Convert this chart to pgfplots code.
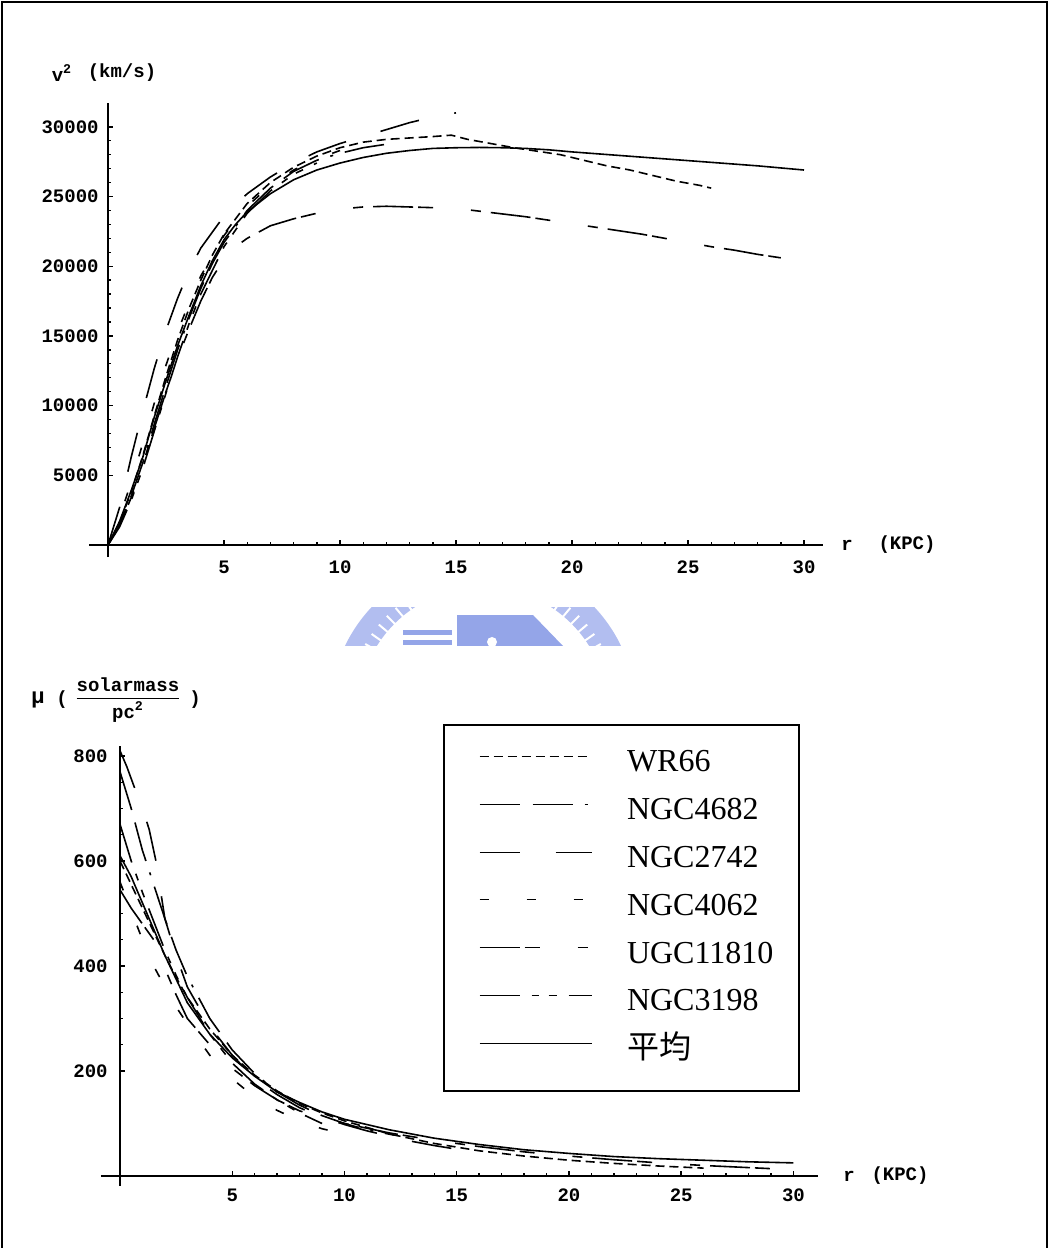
\documentclass[border=0pt]{standalone}
\usepackage{fontspec}
\usepackage{pgfplots}
\pgfplotsset{compat=1.18}
\setmonofont{Liberation Mono}
\newfontfamily\timesfont{Liberation Serif}
\newfontfamily\cjk{Noto Sans CJK TC}
\definecolor{wmblue}{RGB}{148,165,232}
\definecolor{wmring}{RGB}{178,190,240}
\tikzset{
  sWR/.style={dash pattern=on 4.5pt off 2.5pt},
  sN4682/.style={dash pattern=on 20pt off 6.5pt on 20pt off 6pt on 1.5pt off 6pt},
  sN2742/.style={dash pattern=on 20pt off 18pt},
  sN4062/.style={dash pattern=on 4.5pt off 19pt},
  sU/.style={dash pattern=on 20pt off 2.5pt on 7.5pt off 19pt on 5pt off 5pt},
  sN3198/.style={dash pattern=on 20pt off 6pt on 3.5pt off 5pt on 4pt off 6pt},
  sAvg/.style={solid},
}
\pgfplotsset{
  mystyle/.style={
    scale only axis, clip=false,
    axis lines=middle, axis line style={-, line width=1pt, black},
    tick align=inside, major tick length=2.5pt, minor tick length=1.5pt,
    tick style={line width=0.7pt, black},
    ticklabel style={font=\ttfamily\bfseries\fontsize{9.5}{10}\selectfont, inner sep=0pt},
    /pgf/number format/assume math mode=true,
    scaled ticks=false,
    every axis plot/.append style={line width=0.8pt, black},
  }
}
\begin{document}
\begin{tikzpicture}
\path[use as bounding box] (0pt,0pt) rectangle (524.5pt,624pt);
\draw[line width=1pt] (1pt,0pt) -- (1pt,623pt) -- (523.5pt,623pt) -- (523.5pt,0pt);

% faint watermark (partly visible)
\begin{scope}
\clip (165pt,301pt) rectangle (315pt,320pt);
\draw[wmring, line width=14pt] (241.5pt,268pt) circle (69.5pt);
\foreach \a in {95,100,...,175} {\draw[white, line width=1pt] (241.5pt,268pt) ++(\a:62pt) -- ++(\a:6pt);}
\foreach \a in {5,10,...,85} {\draw[white, line width=1pt] (241.5pt,268pt) ++(\a:62pt) -- ++(\a:6pt);}
\fill[wmblue] (228.5pt,301pt) rectangle (266.5pt,316.5pt);
\fill[white] (246pt,303pt) circle (2.5pt);
\fill[wmblue] (201.5pt,306.5pt) rectangle (226pt,309pt);
\fill[wmblue] (201.5pt,301.5pt) rectangle (226pt,304pt);
\fill[wmblue] (266.5pt,316.5pt) -- (281.5pt,301pt) -- (266.5pt,301pt) -- cycle;
\end{scope}

% ---------------- top panel ----------------
\begin{axis}[mystyle,
  at={(54pt,351.5pt)}, anchor=origin,
  width=366.56pt, height=227pt,
  xmin=-0.8, xmax=30.8, ymin=-870, ymax=31700,
  xtick={5,10,15,20,25,30},
  ytick={5000,10000,15000,20000,25000,30000},
  yticklabels={5000,10000,15000,20000,25000,30000},
  minor x tick num=4, minor y tick num=4,
  xticklabel style={anchor=center, yshift=-11pt},
  yticklabel style={anchor=east, xshift=-4.5pt},
]
\addplot[sWR] coordinates {(0,0)(0.5,1600)(1,3800)(1.5,6400)(2,9300)(2.5,12100)(3,14700)(3.5,17000)(4,19000)(4.5,20800)(5,22300)(6,24500)(7,26000)(8,27100)(9,27900)(10,28500)(11,28900)(12,29100)(13,29200)(14,29300)(14.8,29400)(15.5,29100)(16.5,28800)(17.5,28500)(18.5,28250)(19.5,28000)(20.5,27600)(21.5,27200)(22.5,26900)(23.5,26500)(24.5,26100)(25.5,25800)(26,25600)};
\addplot[sN4682] coordinates {(0,0)(0.5,1500)(1,3500)(1.5,5900)(2,8700)(2.5,11400)(3,14000)(3.5,16300)(4,18400)(4.5,20200)(5,21700)(6,24000)(7,25600)(8,26800)(9,27600)(10,28100)(11,28500)(12.2,28800)};
\addplot[sN2742] coordinates {(0,0)(0.5,2700)(1,6300)(1.5,9600)(2,12700)(2.5,15400)(3,17700)(3.5,19700)(4,21300)(5,23600)(6,25200)(7,26400)(8,27400)(9,28200)(10,28800)(11,29300)(12,29800)(13,30300)(14,30700)(15,31000)};
\addplot[sN4062] coordinates {(0,0)(0.5,2000)(1,4500)(1.5,7300)(2,10200)(2.5,12900)(3,15300)(3.5,17400)(4,19300)(5,22200)(6,24300)(7,25800)(8,26900)(9,27700)(10,28300)};
\addplot[sU] coordinates {(0,0)(0.5,1400)(1,3400)(1.5,5800)(2,8400)(2.5,11000)(3,13400)(3.5,15500)(4,17500)(4.5,19200)(5,20500)(5.5,21400)(6,22000)(7,22900)(8,23400)(9,23800)(10,24100)(11,24250)(12,24300)(13,24250)(14,24200)(15,24150)(16,23950)(17,23750)(18,23550)(19,23300)(20,23050)(21,22800)(22,22550)(23,22300)(24,22000)(25,21700)(26,21400)(27,21150)(28,20850)(29,20600)};
\addplot[sN3198] coordinates {(0,0)(0.5,1300)(1,3200)(1.5,5500)(2,8200)(2.5,10900)(3,13500)(3.5,15900)(4,18000)(5,21400)(6,23800)(7,25400)(8,26600)(9,27400)};
\addplot[sAvg] coordinates {(0,0)(0.5,1700)(1,3900)(1.5,6300)(2,9200)(2.5,11800)(3,14300)(3.5,16500)(4,18600)(4.5,20400)(5,21900)(5.5,23000)(6,23900)(7,25200)(8,26200)(9,26900)(10,27400)(11,27800)(12,28100)(13,28300)(14,28450)(15,28500)(16,28520)(17,28500)(18,28450)(19,28350)(20,28200)(22,27950)(24,27700)(26,27450)(28,27200)(30,26900)};
\end{axis}

% ---------------- bottom panel ----------------
\begin{axis}[mystyle,
  at={(60pt,36pt)}, anchor=origin,
  width=358.6pt, height=220pt,
  xmin=-0.85, xmax=31.1, ymin=-19, ymax=819,
  xtick={5,10,15,20,25,30},
  ytick={200,400,600,800},
  minor x tick num=4, minor y tick num=3,
  xticklabel style={anchor=center, yshift=-9.5pt},
  yticklabel style={anchor=east, xshift=-6pt},
  legend image code/.code={\path (0pt,0pt); \draw[#1] (4.5pt,4pt) -- (60.5pt,4pt);},
  legend image post style={line width=0.5pt},
  legend cell align=left,
  legend style={at={(0.477,1.05)}, anchor=north west, draw=black, line width=1pt,
    inner xsep=13pt, inner ysep=11.5pt, row sep=7.4pt,
    nodes={inner sep=0pt, text height=12pt, text depth=4.5pt,
      font=\timesfont\fontsize{16}{18}\selectfont},
    /tikz/every odd column/.append style={column sep=17.5pt}},
]
\addplot[sWR] coordinates {(0,600)(0.5,555)(1,510)(1.5,465)(2,420)(2.5,378)(3,340)(4,280)(5,230)(6,192)(7,162)(8,138)(9,120)(10,105)(12,80)(14,62)(16,48)(18,38)(20,30)(22,24)(24,19)(26,15)};
\addlegendentry{WR66}
\addplot[sN4682] coordinates {(0,770)(0.5,700)(1,620)(1.5,555)(2,490)(2.5,430)(3,380)(4,300)(5,240)(6,195)(7,160)(8,135)(9,115)(10,100)(11,88)(12.2,78)};
\addlegendentry{NGC4682}
\addplot[sN2742] coordinates {(0,810)(0.3,780)(0.6,745)(1,700)(1.3,660)(1.6,600)(2,490)(2.5,420)(3,360)(4,285)(5,230)(6,185)(7,155)(8,130)(9,112)(10,98)(11,86)(12,76)(13,66)(14,58)(15,51)};
\addlegendentry{NGC2742}
\addplot[sN4062] coordinates {(0,560)(0.5,505)(1,450)(1.5,400)(2,360)(2.5,322)(3,290)(4,230)(5,185)(6,150)(7,125)(8,105)(9,90)(10,80)};
\addlegendentry{NGC4062}
\addplot[sU] coordinates {(0,545)(0.5,510)(1,480)(1.5,450)(2,395)(2.5,345)(3,300)(4,250)(5,205)(6,172)(7,145)(8,124)(10,100)(12,82)(14,68)(16,56)(18,46)(20,38)(22,31)(24,25)(26,20)(28,16)(29,14)};
\addlegendentry{UGC11810}
\addplot[sN3198] coordinates {(0,670)(0.5,600)(1,540)(1.5,485)(2,430)(2.5,382)(3,340)(4,270)(5,215)(6,175)(7,145)(8,120)(9,100)};
\addlegendentry{NGC3198}
\addplot[sAvg] coordinates {(0,610)(0.5,570)(1,520)(1.5,470)(2,420)(2.5,375)(3,330)(4,270)(5,225)(6,190)(7,160)(8,140)(9,122)(10,108)(12,88)(14,72)(16,60)(18,50)(20,43)(22,37)(24,33)(26,30)(28,27)(30,25)};
\addlegendentry{{\cjk 平均}}
\end{axis}

% ---------------- axis titles ----------------
\begin{scope}[font=\ttfamily\bfseries\fontsize{9.5}{10}\selectfont]
\node at (31pt,587.5pt) {v\textsuperscript{2}};
\node at (61pt,587.5pt) {(km/s)};
\node at (423.5pt,351.5pt) {r};
\node at (453.5pt,351.5pt) {(KPC)};
\node at (424.5pt,36pt) {r};
\node at (450pt,36pt) {(KPC)};
\node at (19pt,274pt) {\fontsize{11}{12}\selectfont μ};
\node at (31pt,274pt) {(};
\node at (64pt,274pt) {$\displaystyle\frac{\mbox{\ttfamily\bfseries\fontsize{9.5}{10}\selectfont solarmass}}{\mbox{\ttfamily\bfseries\fontsize{9.5}{10}\selectfont pc\textsuperscript{2}}}$};
\node at (97.5pt,274pt) {)};
\end{scope}
\end{tikzpicture}
\end{document}
